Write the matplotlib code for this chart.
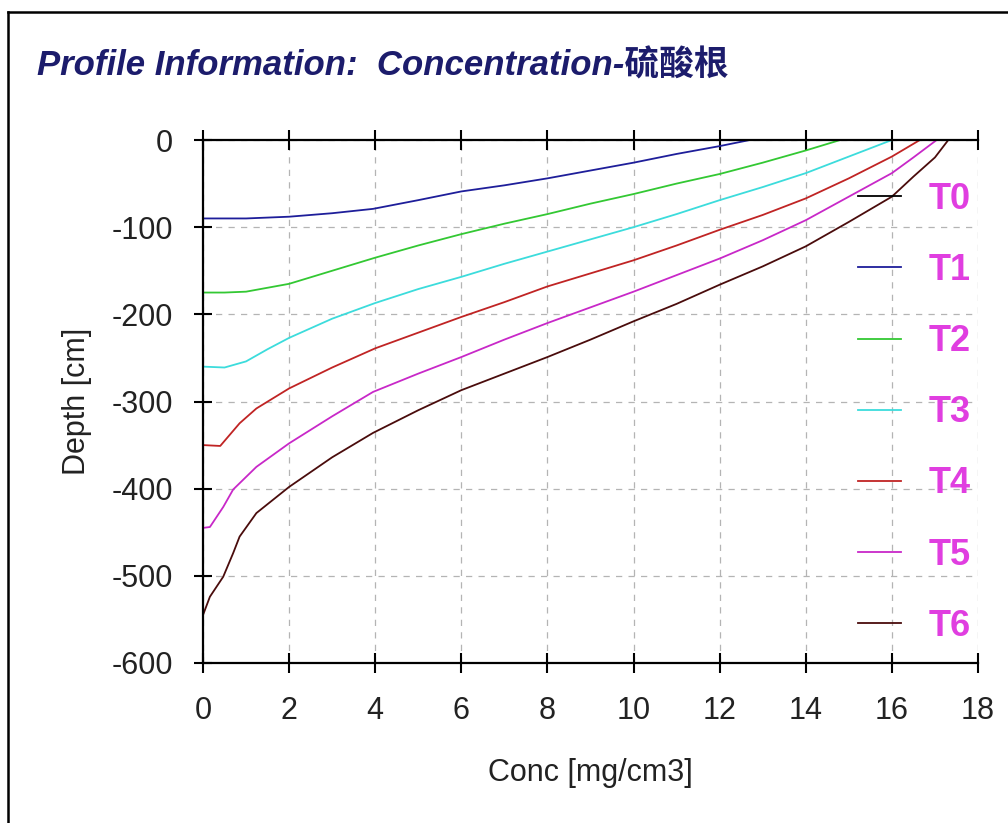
import matplotlib
matplotlib.use("Agg")
import matplotlib.pyplot as plt
from matplotlib.lines import Line2D

# --- profile data (conc in mg/cm3, depth in cm) ---
t0_conc = [0, 0]
t0_depth = [0, -600]

t1_conc = [0, 1, 2, 3, 3.95, 5, 6, 7, 8, 9, 10, 11, 12, 12.7]
t1_depth = [-90, -90, -88, -84, -79, -69, -59, -52, -44, -35, -26, -16, -7, 0]

t2_conc = [0, 0.5, 1, 2, 3, 4, 5, 6, 7, 8, 9, 10, 11, 12, 13, 14, 14.8]
t2_depth = [-175, -175, -174, -165, -150, -135, -121, -108, -96, -85, -73, -62, -50, -39, -26, -12, 0]

t3_conc = [0, 0.5, 1, 1.5, 2, 3, 4, 5, 6, 7, 8, 9, 10, 11, 12, 13, 14, 15, 16]
t3_depth = [-260, -261, -254, -240, -227, -205, -187, -171, -157, -142, -128, -114, -100, -85, -69, -54, -38, -19, 0]

t4_conc = [0, 0.4, 0.85, 1.24, 2, 3, 4, 5, 6, 7, 8, 9, 10, 11, 12, 13, 14, 15, 16, 16.65]
t4_depth = [-350, -351, -325, -308, -285, -261, -239, -221, -203, -186, -168, -153, -138, -121, -103, -86, -67, -44, -19, 0]

t5_conc = [0, 0.16, 0.47, 0.7, 1.24, 2, 3, 3.95, 5, 6, 7, 8, 9, 10, 11, 12, 13, 14, 15, 16, 16.5, 17.04]
t5_depth = [-445, -444, -421, -401, -375, -348, -317, -289, -268, -249, -229, -210, -192, -174, -155, -136, -115, -92, -65, -38, -20, 0]

t6_conc = [0, 0.16, 0.47, 0.7, 0.85, 1.24, 2, 3, 3.95, 5, 6, 7, 8, 9, 10, 11, 12, 13, 14, 15, 16, 16.5, 17, 17.31]
t6_depth = [-545, -524, -501, -474, -455, -428, -398, -364, -336, -310, -287, -268, -249, -229, -208, -188, -166, -145, -122, -94, -65, -42, -20, 0]

labels = ["T0", "T1", "T2", "T3", "T4", "T5", "T6"]
colors = ["#000000", "#1e1e9a", "#33c833", "#3cdcdc", "#c02424", "#c828c8", "#4a0c0c"]

x_ticks = list(range(0, 19, 2))
y_ticks = list(range(0, -601, -100))

plt.rcParams["font.family"] = ["Liberation Sans", "DejaVu Sans"]
plt.rcParams["axes.unicode_minus"] = False

fig = plt.figure(figsize=(10.08, 8.23), dpi=100)
ax = fig.add_axes([203 / 1008, 1 - 663 / 823, 775 / 1008, 523 / 823])

series = [(t0_conc, t0_depth), (t1_conc, t1_depth), (t2_conc, t2_depth), (t3_conc, t3_depth),
          (t4_conc, t4_depth), (t5_conc, t5_depth), (t6_conc, t6_depth)]
for (c, d), lab, col in zip(series, labels, colors):
    ax.plot(c, d, color=col, lw=1.3, label=lab)

ax.set_xlim(0, 18)
ax.set_ylim(-600, 0)
ax.set_xticks(x_ticks)
ax.set_yticks(y_ticks)
ax.grid(True, color="#b4b4b4", linestyle=(0, (5, 5)), linewidth=0.9)

ax.spines["right"].set_visible(False)
for s in ["left", "bottom", "top"]:
    ax.spines[s].set_linewidth(1.6)
ax.tick_params(axis="x", direction="inout", length=14, width=1.5, pad=17,
               labelsize=22, top=True, labelcolor="#222222")
ax.tick_params(axis="y", direction="inout", length=13, width=1.5, pad=15,
               labelsize=22, labelcolor="#222222")

ax.set_xlabel("Conc [mg/cm3]", fontsize=22, color="#222222", labelpad=23)
ax.set_ylabel("Depth [cm]", fontsize=22, color="#222222", labelpad=14)

# legend: no frame, coloured handles, magenta bold labels
leg = ax.legend(loc="upper left", bbox_to_anchor=(858 / 1008, 1 - 182 / 823),
                bbox_transform=fig.transFigure, frameon=False, borderpad=0,
                borderaxespad=0, handlelength=1.2, handletextpad=0.75,
                labelspacing=1.0, prop={"size": 26, "weight": "bold"},
                labelcolor="#e03ee0")

fig.text(37 / 1008, 1 - 66 / 823, "Profile Information:  Concentration-硫酸根",
         fontsize=25, fontweight="bold", fontstyle="italic", color="#1c1c6c",
         va="center", ha="left", family=["Liberation Sans", "Noto Sans CJK SC"])

# outer frame of the panel
fig.add_artist(Line2D([8 / 1008, 8 / 1008], [0, 1 - 12 / 823], color="black", lw=1.8,
                      transform=fig.transFigure))
fig.add_artist(Line2D([8 / 1008, 1], [1 - 12 / 823, 1 - 12 / 823], color="black", lw=1.8,
                      transform=fig.transFigure))

fig.savefig("out.png", dpi=100)
